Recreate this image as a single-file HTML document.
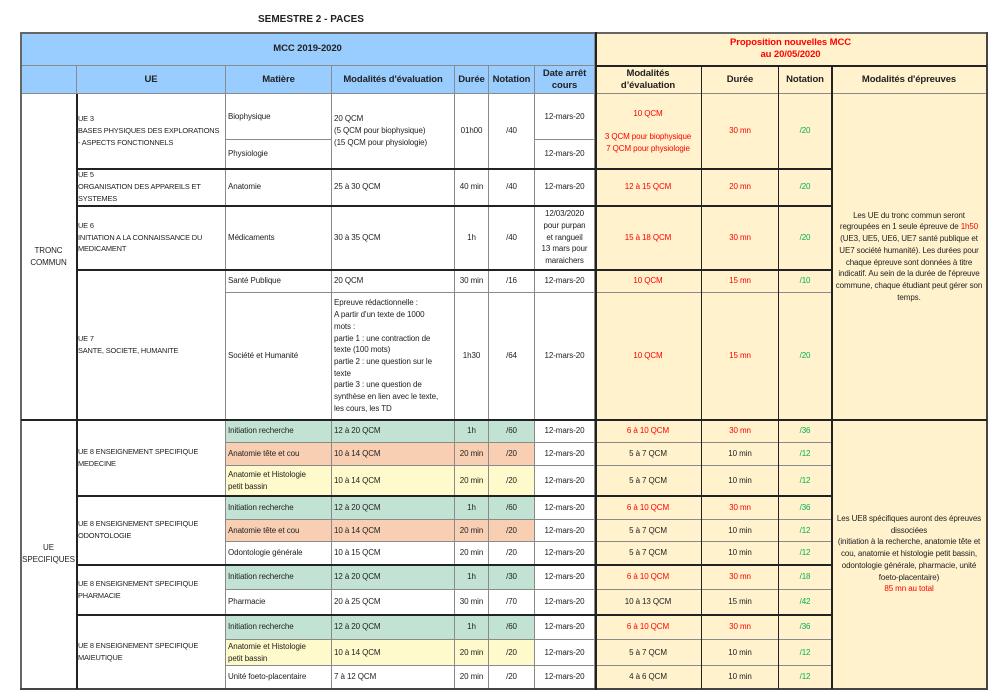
<!DOCTYPE html><html><head><meta charset="utf-8"><style>
body{margin:0;width:1000px;height:697px;background:#fff;position:relative;overflow:hidden;font-family:"Liberation Sans",sans-serif;color:#222}
.c{position:absolute;box-sizing:border-box;border-right:1px solid #8a8a8a;border-bottom:1px solid #8a8a8a;display:flex;align-items:center;justify-content:center;text-align:center;font-size:8px;line-height:11.7px;padding:0 2px;overflow:hidden;letter-spacing:-0.1px}
.l{justify-content:flex-start;text-align:left}
.u{font-size:7.4px;padding:0 1px;letter-spacing:-0.15px}
.h{font-weight:bold;font-size:9.5px;line-height:12px}
.B{background:#99ccff}.K{background:#fff2cc}.G{background:#c2e3d3}.S{background:#f9cfb4}.Y{background:#fffacb}
.r{color:#ff0000}.g{color:#00b050}
.t{position:absolute;background:#222}
</style></head><body>
<div style="position:absolute;left:258px;top:14px;font-weight:bold;font-size:10px">SEMESTRE 2 - PACES</div>
<div class="c B h" style="left:21px;top:33px;width:574px;height:33px">MCC 2019-2020</div>
<div class="c K h r" style="left:595px;top:33px;width:392px;height:33px"><div>Proposition nouvelles MCC<br>au 20/05/2020</div></div>
<div class="c B" style="left:21px;top:66px;width:56px;height:28px"></div>
<div class="c B h" style="left:77px;top:66px;width:149px;height:28px">UE</div>
<div class="c B h" style="left:226px;top:66px;width:106px;height:28px">Matière</div>
<div class="c B h" style="left:332px;top:66px;width:123px;height:28px">Modalités d'évaluation</div>
<div class="c B h" style="left:455px;top:66px;width:34px;height:28px">Durée</div>
<div class="c B h" style="left:489px;top:66px;width:46px;height:28px">Notation</div>
<div class="c B h" style="left:535px;top:66px;width:60px;height:28px">Date arrêt cours</div>
<div class="c K h" style="left:595px;top:66px;width:107px;height:28px"><div>Modalités<br>d’évaluation</div></div>
<div class="c K h" style="left:702px;top:66px;width:77px;height:28px">Durée</div>
<div class="c K h" style="left:779px;top:66px;width:53px;height:28px">Notation</div>
<div class="c K h" style="left:832px;top:66px;width:155px;height:28px">Modalités d'épreuves</div>
<div class="c" style="left:21px;top:94px;width:56px;height:326px"><div>TRONC<br>COMMUN</div></div>
<div class="c" style="left:21px;top:420px;width:56px;height:269px"><div>UE<br>SPECIFIQUES</div></div>
<div class="c l u" style="left:77px;top:94px;width:149px;height:75px"><div>UE 3<br>BASES PHYSIQUES DES EXPLORATIONS<br>- ASPECTS FONCTIONNELS</div></div>
<div class="c l u" style="left:77px;top:169px;width:149px;height:37px"><div>UE 5<br>ORGANISATION DES APPAREILS ET<br>SYSTEMES</div></div>
<div class="c l u" style="left:77px;top:206px;width:149px;height:64px"><div>UE 6<br>INITIATION A LA CONNAISSANCE DU<br>MEDICAMENT</div></div>
<div class="c l u" style="left:77px;top:270px;width:149px;height:150px"><div>UE 7<br>SANTE, SOCIETE, HUMANITE</div></div>
<div class="c l u" style="left:77px;top:420px;width:149px;height:76px"><div>UE 8 ENSEIGNEMENT SPECIFIQUE<br>MEDECINE</div></div>
<div class="c l u" style="left:77px;top:496px;width:149px;height:69px"><div>UE 8 ENSEIGNEMENT SPECIFIQUE<br>ODONTOLOGIE</div></div>
<div class="c l u" style="left:77px;top:565px;width:149px;height:50px"><div>UE 8 ENSEIGNEMENT SPECIFIQUE<br>PHARMACIE</div></div>
<div class="c l u" style="left:77px;top:615px;width:149px;height:74px"><div>UE 8 ENSEIGNEMENT SPECIFIQUE<br>MAIEUTIQUE</div></div>
<div class="c l" style="left:226px;top:94px;width:106px;height:46px">Biophysique</div>
<div class="c l" style="left:226px;top:140px;width:106px;height:29px">Physiologie</div>
<div class="c l" style="left:332px;top:94px;width:123px;height:75px"><div>20 QCM<br>(5 QCM pour biophysique)<br>(15 QCM pour physiologie)</div></div>
<div class="c" style="left:455px;top:94px;width:34px;height:75px">01h00</div>
<div class="c" style="left:489px;top:94px;width:46px;height:75px">/40</div>
<div class="c" style="left:535px;top:94px;width:60px;height:46px">12-mars-20</div>
<div class="c" style="left:535px;top:140px;width:60px;height:29px">12-mars-20</div>
<div class="c K r" style="left:595px;top:94px;width:107px;height:75px"><div>10 QCM<br><br>3 QCM pour biophysique<br>7 QCM pour physiologie</div></div>
<div class="c K r" style="left:702px;top:94px;width:77px;height:75px">30 mn</div>
<div class="c K g" style="left:779px;top:94px;width:53px;height:75px">/20</div>
<div class="c l" style="left:226px;top:169px;width:106px;height:37px">Anatomie</div>
<div class="c l" style="left:332px;top:169px;width:123px;height:37px">25 à 30 QCM</div>
<div class="c" style="left:455px;top:169px;width:34px;height:37px">40 min</div>
<div class="c" style="left:489px;top:169px;width:46px;height:37px">/40</div>
<div class="c" style="left:535px;top:169px;width:60px;height:37px">12-mars-20</div>
<div class="c K r" style="left:595px;top:169px;width:107px;height:37px">12 à 15 QCM</div>
<div class="c K r" style="left:702px;top:169px;width:77px;height:37px">20 mn</div>
<div class="c K g" style="left:779px;top:169px;width:53px;height:37px">/20</div>
<div class="c l" style="left:226px;top:206px;width:106px;height:64px">Médicaments</div>
<div class="c l" style="left:332px;top:206px;width:123px;height:64px">30 à 35 QCM</div>
<div class="c" style="left:455px;top:206px;width:34px;height:64px">1h</div>
<div class="c" style="left:489px;top:206px;width:46px;height:64px">/40</div>
<div class="c" style="left:535px;top:206px;width:60px;height:64px"><div>12/03/2020<br>pour purpan<br>et rangueil<br>13 mars pour<br>maraichers</div></div>
<div class="c K r" style="left:595px;top:206px;width:107px;height:64px">15 à 18 QCM</div>
<div class="c K r" style="left:702px;top:206px;width:77px;height:64px">30 mn</div>
<div class="c K g" style="left:779px;top:206px;width:53px;height:64px">/20</div>
<div class="c l" style="left:226px;top:270px;width:106px;height:23px">Santé Publique</div>
<div class="c l" style="left:332px;top:270px;width:123px;height:23px">20 QCM</div>
<div class="c" style="left:455px;top:270px;width:34px;height:23px">30 min</div>
<div class="c" style="left:489px;top:270px;width:46px;height:23px">/16</div>
<div class="c" style="left:535px;top:270px;width:60px;height:23px">12-mars-20</div>
<div class="c K r" style="left:595px;top:270px;width:107px;height:23px">10 QCM</div>
<div class="c K r" style="left:702px;top:270px;width:77px;height:23px">15 mn</div>
<div class="c K g" style="left:779px;top:270px;width:53px;height:23px">/10</div>
<div class="c l" style="left:226px;top:293px;width:106px;height:127px">Société et Humanité</div>
<div class="c l" style="left:332px;top:293px;width:123px;height:127px"><div>Epreuve rédactionnelle :<br>A partir d'un texte de 1000<br>mots :<br>partie 1 : une contraction de<br>texte (100 mots)<br>partie 2 : une question sur le<br>texte<br>partie 3 : une question de<br>synthèse en lien avec le texte,<br>les cours, les TD</div></div>
<div class="c" style="left:455px;top:293px;width:34px;height:127px">1h30</div>
<div class="c" style="left:489px;top:293px;width:46px;height:127px">/64</div>
<div class="c" style="left:535px;top:293px;width:60px;height:127px">12-mars-20</div>
<div class="c K r" style="left:595px;top:293px;width:107px;height:127px">10 QCM</div>
<div class="c K r" style="left:702px;top:293px;width:77px;height:127px">15 mn</div>
<div class="c K g" style="left:779px;top:293px;width:53px;height:127px">/20</div>
<div class="c K" style="left:832px;top:94px;width:155px;height:326px"><div>Les UE du tronc commun seront regroupées en 1 seule épreuve de <span class="r">1h50</span> (UE3, UE5, UE6, UE7 santé publique et UE7 société humanité). Les durées pour chaque épreuve sont données à titre indicatif. Au sein de la durée de l'épreuve commune, chaque étudiant peut gérer son temps.</div></div>
<div class="c K" style="left:832px;top:420px;width:155px;height:269px"><div>Les UE8 spécifiques auront des épreuves dissociées<br>(initiation à la recherche, anatomie tête et cou, anatomie et histologie petit bassin, odontologie générale, pharmacie, unité foeto-placentaire)<br><span class="r">85 mn au total</span></div></div>
<div class="c l G" style="left:226px;top:420px;width:106px;height:23px">Initiation recherche</div><div class="c l G" style="left:332px;top:420px;width:123px;height:23px">12 à 20 QCM</div><div class="c G" style="left:455px;top:420px;width:34px;height:23px">1h</div><div class="c G" style="left:489px;top:420px;width:46px;height:23px">/60</div><div class="c" style="left:535px;top:420px;width:60px;height:23px">12-mars-20</div><div class="c K r" style="left:595px;top:420px;width:107px;height:23px">6 à 10 QCM</div><div class="c K r" style="left:702px;top:420px;width:77px;height:23px">30 mn</div><div class="c K g" style="left:779px;top:420px;width:53px;height:23px">/36</div>
<div class="c l S" style="left:226px;top:443px;width:106px;height:23px">Anatomie tête et cou</div><div class="c l S" style="left:332px;top:443px;width:123px;height:23px">10 à 14 QCM</div><div class="c S" style="left:455px;top:443px;width:34px;height:23px">20 min</div><div class="c S" style="left:489px;top:443px;width:46px;height:23px">/20</div><div class="c" style="left:535px;top:443px;width:60px;height:23px">12-mars-20</div><div class="c K" style="left:595px;top:443px;width:107px;height:23px">5 à 7 QCM</div><div class="c K" style="left:702px;top:443px;width:77px;height:23px">10 min</div><div class="c K g" style="left:779px;top:443px;width:53px;height:23px">/12</div>
<div class="c l Y" style="left:226px;top:466px;width:106px;height:30px"><div>Anatomie et Histologie<br>petit bassin</div></div><div class="c l Y" style="left:332px;top:466px;width:123px;height:30px">10 à 14 QCM</div><div class="c Y" style="left:455px;top:466px;width:34px;height:30px">20 min</div><div class="c Y" style="left:489px;top:466px;width:46px;height:30px">/20</div><div class="c" style="left:535px;top:466px;width:60px;height:30px">12-mars-20</div><div class="c K" style="left:595px;top:466px;width:107px;height:30px">5 à 7 QCM</div><div class="c K" style="left:702px;top:466px;width:77px;height:30px">10 min</div><div class="c K g" style="left:779px;top:466px;width:53px;height:30px">/12</div>
<div class="c l G" style="left:226px;top:496px;width:106px;height:24px">Initiation recherche</div><div class="c l G" style="left:332px;top:496px;width:123px;height:24px">12 à 20 QCM</div><div class="c G" style="left:455px;top:496px;width:34px;height:24px">1h</div><div class="c G" style="left:489px;top:496px;width:46px;height:24px">/60</div><div class="c" style="left:535px;top:496px;width:60px;height:24px">12-mars-20</div><div class="c K r" style="left:595px;top:496px;width:107px;height:24px">6 à 10 QCM</div><div class="c K r" style="left:702px;top:496px;width:77px;height:24px">30 mn</div><div class="c K g" style="left:779px;top:496px;width:53px;height:24px">/36</div>
<div class="c l S" style="left:226px;top:520px;width:106px;height:22px">Anatomie tête et cou</div><div class="c l S" style="left:332px;top:520px;width:123px;height:22px">10 à 14 QCM</div><div class="c S" style="left:455px;top:520px;width:34px;height:22px">20 min</div><div class="c S" style="left:489px;top:520px;width:46px;height:22px">/20</div><div class="c" style="left:535px;top:520px;width:60px;height:22px">12-mars-20</div><div class="c K" style="left:595px;top:520px;width:107px;height:22px">5 à 7 QCM</div><div class="c K" style="left:702px;top:520px;width:77px;height:22px">10 min</div><div class="c K g" style="left:779px;top:520px;width:53px;height:22px">/12</div>
<div class="c l" style="left:226px;top:542px;width:106px;height:23px">Odontologie générale</div><div class="c l" style="left:332px;top:542px;width:123px;height:23px">10 à 15 QCM</div><div class="c" style="left:455px;top:542px;width:34px;height:23px">20 min</div><div class="c" style="left:489px;top:542px;width:46px;height:23px">/20</div><div class="c" style="left:535px;top:542px;width:60px;height:23px">12-mars-20</div><div class="c K" style="left:595px;top:542px;width:107px;height:23px">5 à 7 QCM</div><div class="c K" style="left:702px;top:542px;width:77px;height:23px">10 min</div><div class="c K g" style="left:779px;top:542px;width:53px;height:23px">/12</div>
<div class="c l G" style="left:226px;top:565px;width:106px;height:25px">Initiation recherche</div><div class="c l G" style="left:332px;top:565px;width:123px;height:25px">12 à 20 QCM</div><div class="c G" style="left:455px;top:565px;width:34px;height:25px">1h</div><div class="c G" style="left:489px;top:565px;width:46px;height:25px">/30</div><div class="c" style="left:535px;top:565px;width:60px;height:25px">12-mars-20</div><div class="c K r" style="left:595px;top:565px;width:107px;height:25px">6 à 10 QCM</div><div class="c K r" style="left:702px;top:565px;width:77px;height:25px">30 mn</div><div class="c K g" style="left:779px;top:565px;width:53px;height:25px">/18</div>
<div class="c l" style="left:226px;top:590px;width:106px;height:25px">Pharmacie</div><div class="c l" style="left:332px;top:590px;width:123px;height:25px">20 à 25 QCM</div><div class="c" style="left:455px;top:590px;width:34px;height:25px">30 min</div><div class="c" style="left:489px;top:590px;width:46px;height:25px">/70</div><div class="c" style="left:535px;top:590px;width:60px;height:25px">12-mars-20</div><div class="c K" style="left:595px;top:590px;width:107px;height:25px">10 à 13 QCM</div><div class="c K" style="left:702px;top:590px;width:77px;height:25px">15 min</div><div class="c K g" style="left:779px;top:590px;width:53px;height:25px">/42</div>
<div class="c l G" style="left:226px;top:615px;width:106px;height:25px">Initiation recherche</div><div class="c l G" style="left:332px;top:615px;width:123px;height:25px">12 à 20 QCM</div><div class="c G" style="left:455px;top:615px;width:34px;height:25px">1h</div><div class="c G" style="left:489px;top:615px;width:46px;height:25px">/60</div><div class="c" style="left:535px;top:615px;width:60px;height:25px">12-mars-20</div><div class="c K r" style="left:595px;top:615px;width:107px;height:25px">6 à 10 QCM</div><div class="c K r" style="left:702px;top:615px;width:77px;height:25px">30 mn</div><div class="c K g" style="left:779px;top:615px;width:53px;height:25px">/36</div>
<div class="c l Y" style="left:226px;top:640px;width:106px;height:26px"><div>Anatomie et Histologie<br>petit bassin</div></div><div class="c l Y" style="left:332px;top:640px;width:123px;height:26px">10 à 14 QCM</div><div class="c Y" style="left:455px;top:640px;width:34px;height:26px">20 min</div><div class="c Y" style="left:489px;top:640px;width:46px;height:26px">/20</div><div class="c" style="left:535px;top:640px;width:60px;height:26px">12-mars-20</div><div class="c K" style="left:595px;top:640px;width:107px;height:26px">5 à 7 QCM</div><div class="c K" style="left:702px;top:640px;width:77px;height:26px">10 min</div><div class="c K g" style="left:779px;top:640px;width:53px;height:26px">/12</div>
<div class="c l" style="left:226px;top:666px;width:106px;height:23px">Unité foeto-placentaire</div><div class="c l" style="left:332px;top:666px;width:123px;height:23px">7 à 12 QCM</div><div class="c" style="left:455px;top:666px;width:34px;height:23px">20 min</div><div class="c" style="left:489px;top:666px;width:46px;height:23px">/20</div><div class="c" style="left:535px;top:666px;width:60px;height:23px">12-mars-20</div><div class="c K" style="left:595px;top:666px;width:107px;height:23px">4 à 6 QCM</div><div class="c K" style="left:702px;top:666px;width:77px;height:23px">10 min</div><div class="c K g" style="left:779px;top:666px;width:53px;height:23px">/12</div>
<div class="t" style="left:20px;top:32px;width:968px;height:2px;background:#666"></div>
<div class="t" style="left:20px;top:32px;width:2px;height:658px;background:#666"></div>
<div class="t" style="left:986px;top:32px;width:2px;height:658px;background:#444"></div>
<div class="t" style="left:20px;top:688px;width:968px;height:2px;background:#444"></div>
<div class="t" style="left:595px;top:32px;width:2px;height:658px"></div>
<div class="t" style="left:595px;top:65px;width:392px;height:2px"></div>
<div class="t" style="left:76px;top:94px;width:2px;height:595px"></div>
<div class="t" style="left:77px;top:168px;width:756px;height:2px"></div>
<div class="t" style="left:77px;top:205px;width:756px;height:2px"></div>
<div class="t" style="left:77px;top:269px;width:756px;height:2px"></div>
<div class="t" style="left:21px;top:419px;width:966px;height:2px"></div>
<div class="t" style="left:77px;top:495px;width:756px;height:2px"></div>
<div class="t" style="left:77px;top:564px;width:756px;height:2px"></div>
<div class="t" style="left:77px;top:614px;width:756px;height:2px"></div>
<div class="t" style="left:831px;top:66px;width:2px;height:623px"></div>
<div class="t" style="left:701px;top:66px;width:1px;height:623px"></div>
<div class="t" style="left:778px;top:66px;width:1px;height:623px"></div>
</body></html>
